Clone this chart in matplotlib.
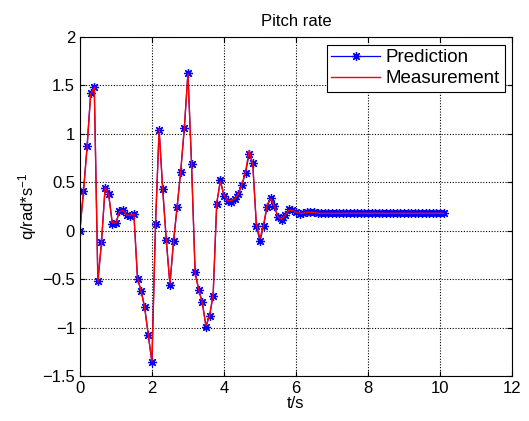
import matplotlib
matplotlib.use("Agg")
import matplotlib.pyplot as plt
import numpy as np

plt.rcParams.update({
    "font.family": ["Liberation Sans", "DejaVu Sans"],
    "font.size": 12,
    "xtick.direction": "in", "ytick.direction": "in",
    "xtick.top": True, "ytick.right": True,
    "mathtext.default": "regular",
})

# sample times, 0.1 s step
t = np.round(np.arange(0, 102) * 0.1, 1)

prediction = [
    0.00, 0.41, 0.87, 1.42, 1.48, -0.52, -0.12, 0.44, 0.38, 0.07,
    0.08, 0.20, 0.21, 0.16, 0.15, 0.17, -0.50, -0.62, -0.79, -1.08,
    -1.36, 0.07, 1.04, 0.43, -0.10, -0.56, -0.11, 0.25, 0.61, 1.06,
    1.63, 0.69, -0.43, -0.61, -0.74, -0.99, -0.88, -0.67, 0.28, 0.52,
    0.36, 0.31, 0.30, 0.33, 0.38, 0.47, 0.60, 0.79, 0.70, 0.05,
    -0.11, 0.05, 0.25, 0.34, 0.26, 0.14, 0.11, 0.16, 0.22, 0.21,
    0.19, 0.17, 0.18, 0.19, 0.19, 0.19, 0.18, 0.18, 0.18, 0.18,
    0.18, 0.18, 0.18, 0.18, 0.18, 0.18, 0.18, 0.18, 0.18, 0.18,
    0.18, 0.18, 0.18, 0.18, 0.18, 0.18, 0.18, 0.18, 0.18, 0.18,
    0.18, 0.18, 0.18, 0.18, 0.18, 0.18, 0.18, 0.18, 0.18, 0.18,
    0.18, 0.18,
]
measurement = [
    0.00, 0.40, 0.86, 1.41, 1.48, -0.53, -0.12, 0.45, 0.37, 0.08,
    0.08, 0.20, 0.21, 0.16, 0.16, 0.17, -0.49, -0.62, -0.80, -1.08,
    -1.35, 0.06, 1.05, 0.42, -0.10, -0.55, -0.11, 0.24, 0.62, 1.06,
    1.62, 0.70, -0.44, -0.61, -0.75, -0.98, -0.88, -0.66, 0.29, 0.51,
    0.37, 0.31, 0.31, 0.33, 0.38, 0.48, 0.61, 0.83, 0.68, 0.07,
    -0.08, 0.06, 0.27, 0.33, 0.25, 0.14, 0.12, 0.16, 0.21, 0.21,
    0.19, 0.18, 0.18, 0.19, 0.19, 0.19, 0.18, 0.18, 0.18, 0.18,
    0.18, 0.18, 0.18, 0.18, 0.18, 0.18, 0.18, 0.18, 0.18, 0.18,
    0.18, 0.18, 0.18, 0.18, 0.18, 0.18, 0.18, 0.18, 0.18, 0.18,
    0.18, 0.18, 0.18, 0.18, 0.18, 0.18, 0.18, 0.18, 0.18, 0.18,
    0.18, 0.18,
]

fig = plt.figure(figsize=(5.29, 4.21), dpi=100)
ax = fig.add_axes([0.151, 0.107, 0.817, 0.805])

# MATLAB-style '*' marker: 8-armed asterisk
ax.plot(t, prediction, "b-", marker=(8, 2, 0), ms=6.5, mew=0.9, lw=0.9,
        label="Prediction")
ax.plot(t, measurement, "r-", lw=1.0, label="Measurement")

ax.set_xlim(0, 12)
ax.set_ylim(-1.5, 2)
ax.set_xticks(np.arange(0, 13, 2))
ax.set_yticks(np.arange(-1.5, 2.01, 0.5))
ax.set_yticklabels(["\u22121.5", "\u22121", "\u22120.5", "0", "0.5", "1", "1.5", "2"])
ax.grid(True, color="black", ls=(0, (1, 1.5)), lw=0.8)
ax.set_title("Pitch rate", fontsize=12, pad=8)
ax.set_xlabel("t/s", labelpad=0)
ax.set_ylabel("q/rad*s$^{-1}$", labelpad=2)

leg = ax.legend(loc="upper right", fontsize=13.5, fancybox=False,
                edgecolor="black", framealpha=1, handlelength=2.6,
                borderaxespad=0.4, borderpad=0.25, labelspacing=0.2,
                handletextpad=0.3)
leg.get_frame().set_linewidth(0.8)

fig.savefig("out.png", dpi=100)
